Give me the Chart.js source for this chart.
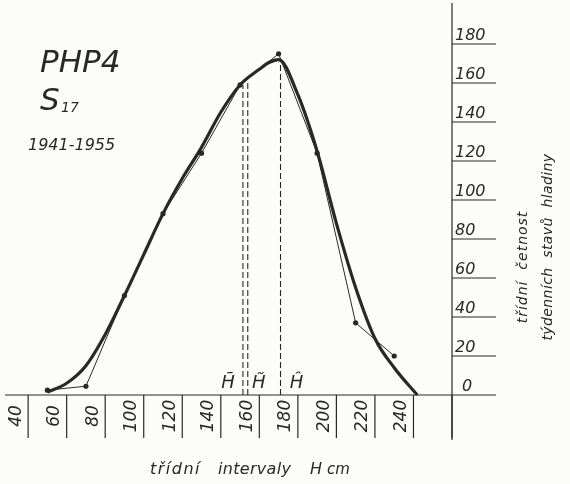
<!DOCTYPE html>
<html lang="cs">
<head>
<meta charset="UTF-8">
<title>PHP4 S17 1941-1955</title>
<script src="https://cdn.jsdelivr.net/npm/chart.js"></script>
<style>
  html, body { margin: 0; padding: 0; background: #fcfcfa; }
  #wrap { width: 570px; height: 484px; position: relative; }
</style>
</head>
<body>
<div id="wrap"><canvas id="chart"></canvas></div>
<script>
// class midpoints (cm) and class frequencies - thin polygon with points
const classMid = [50, 70, 90, 110, 130, 150, 170, 190, 210, 230];
const classFreq = [2.5, 4.5, 51, 93, 124, 159, 175, 124, 37, 20];

// smoothed frequency curve (thick line)
const curveH = [50, 60, 70, 80, 90, 100, 110, 120, 130, 140, 150, 160, 165, 170, 180, 190, 200, 210, 220, 230, 242];
const curveF = [1.5, 6, 15, 31, 51, 72, 93, 111, 127, 145, 159, 167, 170.5, 172, 154, 125, 88, 55, 29, 14, 0];

// mean, median, mode and where their lines meet the curve
const statNames = ['H\u0304', 'H\u0303', '\u0124'];
const statH = [151.5, 154, 171];
const statTop = [159, 160, 172];

const xTicks = [40, 60, 80, 100, 120, 140, 160, 180, 200, 220, 240];
const yTicks = [0, 20, 40, 60, 80, 100, 120, 140, 160, 180];

const ink = '#282828';
const hand = 'italic 16px "DejaVu Sans"';

const statSets = statH.map((h, i) => ({
  data: [{ x: h, y: 0 }, { x: h, y: statTop[i] }],
  showLine: true,
  borderColor: ink,
  borderWidth: 1.1,
  borderDash: [6, 3],
  pointRadius: 0,
  clip: false
}));

const paperAxes = {
  id: 'paperAxes',
  afterDraw(chart) {
    const ctx = chart.ctx;
    const xs = chart.scales.x, ys = chart.scales.y;
    const base = ys.getPixelForValue(0);
    const axisX = xs.getPixelForValue(260);
    ctx.save();
    ctx.strokeStyle = ink;
    ctx.fillStyle = ink;
    ctx.lineWidth = 1.2;

    // baseline and vertical axis on the right
    ctx.beginPath();
    ctx.moveTo(5, base); ctx.lineTo(axisX, base);
    ctx.moveTo(axisX, 3); ctx.lineTo(axisX, 440);
    ctx.stroke();

    // y ticks: short rules with labels sitting on them
    ctx.font = hand;
    ctx.textAlign = 'left';
    ctx.textBaseline = 'alphabetic';
    yTicks.forEach(v => {
      const y = ys.getPixelForValue(v);
      ctx.beginPath();
      ctx.moveTo(axisX, y); ctx.lineTo(496, y);
      ctx.stroke();
      ctx.fillText(String(v), v === 0 ? 462 : 455, y - 4);
    });

    // x class boundaries with rotated labels
    xTicks.concat([260]).forEach(v => {
      const x = xs.getPixelForValue(v);
      ctx.beginPath();
      ctx.moveTo(x, base); ctx.lineTo(x, 438);
      ctx.stroke();
    });
    ctx.font = 'italic 17px "DejaVu Sans"';
    ctx.textAlign = 'center';
    ctx.textBaseline = 'middle';
    xTicks.forEach(v => {
      const x = xs.getPixelForValue(v);
      ctx.save();
      ctx.translate(x - 12, 416);
      ctx.rotate(-Math.PI / 2);
      ctx.fillText(String(v), 0, 0);
      ctx.restore();
    });

    // statistic symbols next to the dashed lines
    ctx.font = 'italic 18px "DejaVu Sans"';
    ctx.textBaseline = 'alphabetic';
    const offs = [-15, 11, 16];
    statH.forEach((h, i) => {
      ctx.fillText(statNames[i], xs.getPixelForValue(h) + offs[i], 388);
    });

    // axis titles
    ctx.font = 'italic 16px "DejaVu Sans"';
    ctx.textAlign = 'left';
    ctx.letterSpacing = '1.5px';
    ctx.fillText('třídní', 150, 474);
    ctx.letterSpacing = '0.3px';
    ctx.fillText('intervaly', 218, 474);
    ctx.letterSpacing = '0px';
    ctx.fillText('H', 310, 474);
    ctx.font = 'italic 15px "DejaVu Sans"';
    ctx.fillText('cm', 327, 474);

    ctx.font = 'italic 14px "DejaVu Sans"';
    ctx.textAlign = 'center';
    ctx.letterSpacing = '1px';
    ctx.save();
    ctx.translate(527, 267);
    ctx.rotate(-Math.PI / 2);
    ctx.fillText('třídní  četnost', 0, 0);
    ctx.restore();
    ctx.letterSpacing = '0.4px';
    ctx.save();
    ctx.translate(552, 247);
    ctx.rotate(-Math.PI / 2);
    ctx.fillText('týdenních  stavů  hladiny', 0, 0);
    ctx.restore();
    ctx.letterSpacing = '0px';

    // station heading
    ctx.textAlign = 'left';
    ctx.font = 'italic 31px "DejaVu Sans"';
    ctx.fillText('PHP4', 40, 72);
    ctx.fillText('S', 40, 110);
    ctx.font = 'italic 14px "DejaVu Sans"';
    ctx.fillText('17', 61, 112);
    ctx.font = 'italic 16px "DejaVu Sans"';
    ctx.fillText('1941-1955', 28, 150);
    ctx.restore();
  }
};

new Chart(document.getElementById('chart'), {
  type: 'scatter',
  data: {
    datasets: [
      {
        data: curveH.map((h, i) => ({ x: h, y: curveF[i] })),
        showLine: true,
        borderColor: ink,
        borderWidth: 3.2,
        pointRadius: 0,
        cubicInterpolationMode: 'monotone',
        clip: false
      },
      {
        data: classMid.map((h, i) => ({ x: h, y: classFreq[i] })),
        showLine: true,
        borderColor: ink,
        borderWidth: 1,
        pointRadius: 2.6,
        pointBackgroundColor: ink,
        pointBorderWidth: 0,
        clip: false
      },
      ...statSets
    ]
  },
  options: {
    responsive: true,
    maintainAspectRatio: false,
    animation: false,
    layout: { padding: { left: 5, right: 118, top: 5, bottom: 89 } },
    plugins: { legend: { display: false }, tooltip: { enabled: false } },
    scales: {
      x: { type: 'linear', min: 28, max: 260, display: false },
      y: { min: 0, max: 200, display: false }
    }
  },
  plugins: [paperAxes]
});
</script>
</body>
</html>
